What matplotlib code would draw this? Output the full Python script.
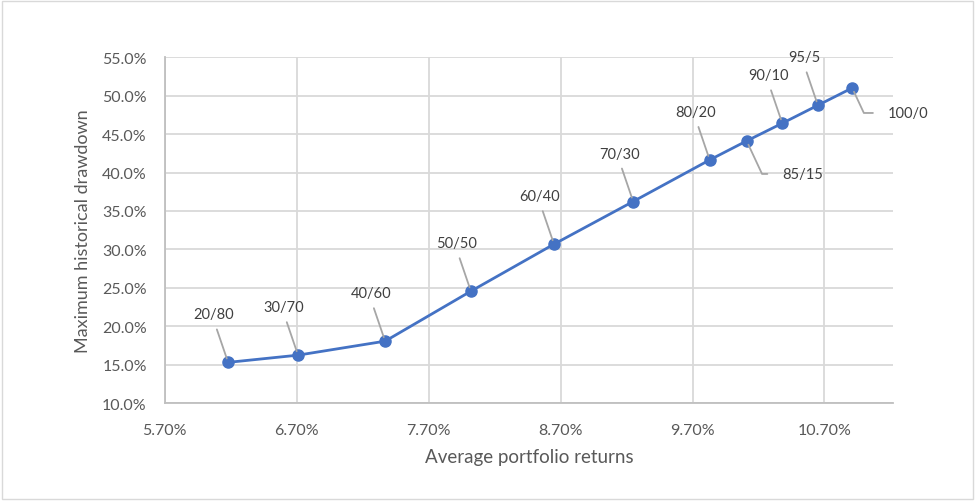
import matplotlib.pyplot as plt
from matplotlib.patches import Rectangle
from matplotlib.ticker import FuncFormatter

# portfolio mixes (stocks/bonds)
labels = ['20/80', '30/70', '40/60', '50/50', '60/40', '70/30',
          '80/20', '85/15', '90/10', '95/5', '100/0']
returns = [6.18, 6.71, 7.37, 8.02, 8.65, 9.25, 9.83, 10.11, 10.38, 10.65, 10.91]
drawdown = [15.3, 16.24, 18.06, 24.56, 30.68, 36.23, 41.64, 44.11, 46.41, 48.75, 51.0]

x_ticks = [5.70, 6.70, 7.70, 8.70, 9.70, 10.70]
y_ticks = [10, 15, 20, 25, 30, 35, 40, 45, 50, 55]

def main():
    plt.rcParams['font.family'] = ['Lato', 'DejaVu Sans']
    fig = plt.figure(figsize=(9.75, 5.02), dpi=100)
    #light border round the chart
    fig.patches.append(Rectangle((0.002, 0.003), 0.996, 0.994, transform=fig.transFigure,
                                 fill=False, edgecolor='#D9D9D9', linewidth=1))
    ax = fig.add_axes([0.169, 0.195, 0.747, 0.689])

    ax.plot(returns, drawdown, color='#4472C4', linewidth=2, marker='o',
            markersize=8, zorder=3)

    #label offsets in pixels (text centre relative to point)
    for i, lab in enumerate(labels):
        if lab in ('85/15', '100/0'):
            ax.annotate(lab, (returns[i], drawdown[i]), xytext=(36, -33 if lab == '85/15' else -25),
                        textcoords='offset pixels', ha='left', va='center',
                        fontsize=10.5, color='#404040',
                        arrowprops=dict(arrowstyle='-', color='#A6A6A6', lw=1.3,
                                        relpos=(0, 0.5), shrinkA=9, shrinkB=3,
                                        connectionstyle='angle,angleA=0,angleB=-65,rad=0'))
        else:
            ax.annotate(lab, (returns[i], drawdown[i]), xytext=(-14, 48),
                        textcoords='offset pixels', ha='center', va='center',
                        fontsize=10.5, color='#404040',
                        arrowprops=dict(arrowstyle='-', color='#A6A6A6', lw=1.3,
                                        relpos=(0.5, 0), shrinkA=4, shrinkB=3))

    ax.set_xlim(5.70, 11.22)
    ax.set_ylim(10, 55)
    ax.set_xticks(x_ticks)
    ax.set_yticks(y_ticks)
    ax.xaxis.set_major_formatter(FuncFormatter(lambda v, p: '%.2f%%' % v))
    ax.yaxis.set_major_formatter(FuncFormatter(lambda v, p: '%.1f%%' % v))
    ax.tick_params(length=0, labelsize=11.5, labelcolor='#595959')
    ax.tick_params(axis='x', pad=14)
    ax.tick_params(axis='y', pad=13)

    ax.grid(True, color='#D9D9D9', linewidth=1.3)
    ax.set_axisbelow(True)
    for s in ['top', 'right']:
        ax.spines[s].set_visible(False)
    for s in ['left', 'bottom']:
        ax.spines[s].set_color('#BFBFBF')
        ax.spines[s].set_linewidth(1.3)

    ax.set_xlabel('Average portfolio returns', fontsize=13.5, color='#595959', labelpad=8)
    ax.set_ylabel('Maximum historical drawdown', fontsize=13, color='#595959', labelpad=8)

    fig.savefig('out.png', dpi=100)

main()
